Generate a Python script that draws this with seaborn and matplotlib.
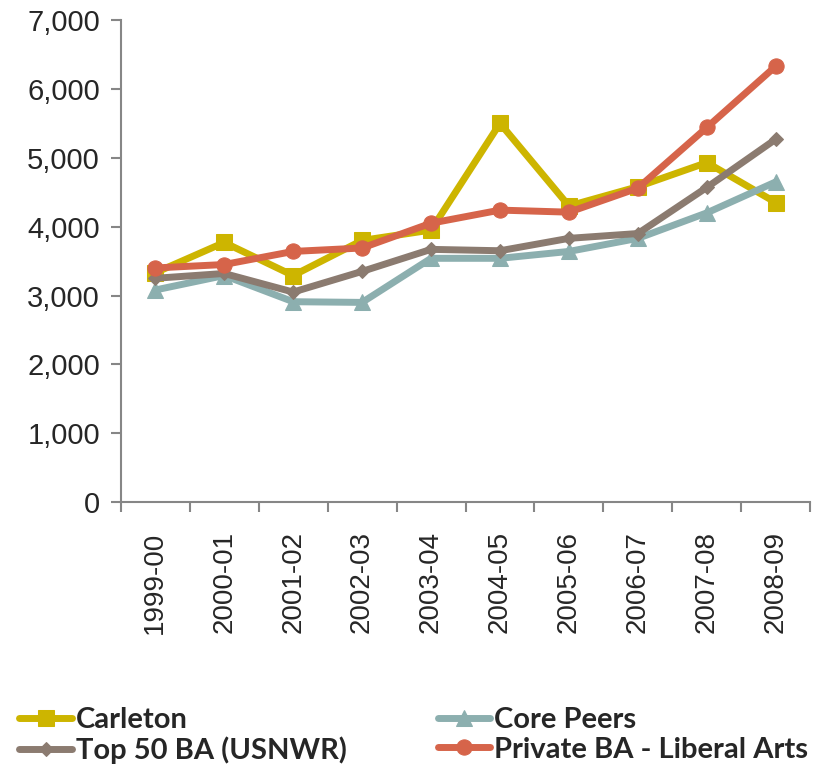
import pandas as pd
import numpy as np
import matplotlib.pyplot as plt
import seaborn as sns

sns.set_style('white')
plt.rcParams['font.family'] = ['Liberation Sans', 'DejaVu Sans']

# ----------------- data -----------------
years = ['1999-00', '2000-01', '2001-02', '2002-03', '2003-04',
         '2004-05', '2005-06', '2006-07', '2007-08', '2008-09']
carleton = [3330, 3770, 3290, 3800, 3950, 5500, 4300, 4580, 4930, 4350]
core_peers = [3080, 3290, 2910, 2900, 3540, 3540, 3640, 3830, 4200, 4650]
top50 = [3250, 3320, 3050, 3350, 3670, 3650, 3830, 3900, 4570, 5270]
private_ba = [3400, 3450, 3640, 3690, 4050, 4240, 4210, 4560, 5440, 6330]

series_names = ['Carleton', 'Core Peers', 'Top 50 BA (USNWR)', 'Private BA - Liberal Arts']
colors = ['#CDB500', '#8CAFAF', '#8B7B70', '#D6644A']
markers = ['s', '^', 'D', 'o']
msizes = [11, 11, 7, 11]

df = pd.DataFrame({'year': years * 4,
                   'value': carleton + core_peers + top50 + private_ba,
                   'series': np.repeat(series_names, len(years))})
df['x'] = np.tile(np.arange(len(years)), 4)

fig = plt.figure(figsize=(8.16, 7.69), dpi=100)
ax = fig.add_axes([0.148, 0.347, 0.845, 0.627])

# 按系列逐条画线，方便单独设置 marker 大小
for name, c, m, ms in zip(series_names, colors, markers, msizes):
    sub = df[df['series'] == name]
    sns.lineplot(data=sub, x='x', y='value', ax=ax, color=c, lw=5,
                 marker=m, markersize=ms, markeredgecolor=c, label=name,
                 legend=False)

ax.set_xlim(-0.5, len(years) - 0.5)
ax.set_ylim(0, 7000)
ax.set_yticks(range(0, 7001, 1000))
ax.set_yticklabels([f'{v:,}' for v in range(0, 7001, 1000)], fontsize=21)
ax.set_xticks(range(len(years)))
ax.set_xticklabels(years, rotation=90, fontsize=20)
ax.tick_params(axis='x', length=0, pad=21)
ax.tick_params(axis='y', length=7, color='#868686', width=1.5, left=True, pad=8)
# 类别之间的刻度线
ax.set_xticks(np.arange(-0.5, len(years), 1), minor=True)
ax.tick_params(axis='x', which='minor', length=7, color='#868686', width=1.5, bottom=True)
ax.set_xlabel('')
ax.set_ylabel('')

for s in ['top', 'right']:
    ax.spines[s].set_visible(False)
for s in ['left', 'bottom']:
    ax.spines[s].set_color('#868686')
    ax.spines[s].set_linewidth(1.5)

handles, labels = ax.get_legend_handles_labels()
order = [0, 2, 1, 3]
fig.legend([handles[i] for i in order], [labels[i] for i in order],
           loc='upper left', bbox_to_anchor=(0.013, 0.092), ncol=2,
           frameon=False, handlelength=1.8, handletextpad=0.15,
           columnspacing=3.1, labelspacing=0.12, borderaxespad=0,
           borderpad=0.3,
           prop={'family': 'Lato', 'weight': 'bold', 'size': 21})

fig.savefig('out.png', dpi=100)
